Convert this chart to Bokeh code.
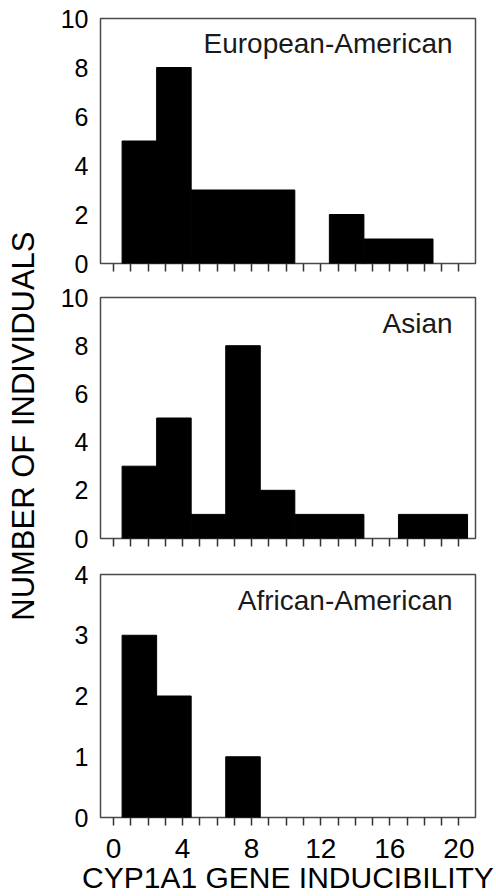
import math
from bokeh.plotting import figure
from bokeh.layouts import row, column
from bokeh.models import FixedTicker, Label, ColumnDataSource
from bokeh.embed import file_html
from bokeh.resources import INLINE

# ---- data ----
bin_left = [0.5, 2.5, 4.5, 6.5, 8.5, 10.5, 12.5, 14.5, 16.5, 18.5]
bin_right = [2.5, 4.5, 6.5, 8.5, 10.5, 12.5, 14.5, 16.5, 18.5, 20.5]
european_american = [5, 8, 3, 3, 3, 0, 2, 1, 1, 0]
asian = [3, 5, 1, 8, 2, 1, 1, 0, 1, 1]
african_american = [3, 2, 0, 1, 0, 0, 0, 0, 0, 0]
x_ticks = list(range(0, 21))
x_labeled = [0, 4, 8, 12, 16, 20]
y_ticks_10 = [0, 2, 4, 6, 8, 10]
y_ticks_4 = [0, 1, 2, 3, 4]
x_title = "CYP1A1 GENE INDUCIBILITY"
y_title = "NUMBER OF INDIVIDUALS"

FONT = "Liberation Sans"


def panel(counts, ymax, yticks, name, label_y, height, top, bottom, show_x):
    p = figure(width=456, height=height, x_range=(-0.75, 20.96), y_range=(0, ymax),
               output_backend="svg", toolbar_location=None,
               min_border_left=60, min_border_right=21,
               min_border_top=top, min_border_bottom=bottom)
    keep = [i for i, c in enumerate(counts) if c > 0]
    src = ColumnDataSource(dict(
        left=[bin_left[i] for i in keep],
        right=[bin_right[i] for i in keep],
        top=[counts[i] for i in keep]))
    p.quad(left="left", right="right", top="top", bottom=0, source=src,
           fill_color="black", line_color="black", line_width=1)
    p.xgrid.grid_line_color = None
    p.ygrid.grid_line_color = None
    p.outline_line_color = "#4a4a4a"
    p.outline_line_width = 1.5
    p.background_fill_color = "white"
    p.border_fill_color = "white"

    xa = p.xaxis[0]
    xa.ticker = FixedTicker(ticks=x_ticks, minor_ticks=[])
    xa.axis_line_color = None
    xa.major_tick_out = 8
    xa.major_tick_in = 0
    xa.major_tick_line_color = "#333333"
    xa.major_tick_line_width = 1.5
    xa.major_label_overrides = {t: (str(t) if (show_x and t in x_labeled) else "") for t in x_ticks}
    xa.major_label_text_font = FONT
    xa.major_label_text_font_size = "28px"
    xa.major_label_text_color = "black"
    xa.major_label_standoff = 13

    ya = p.yaxis[0]
    ya.ticker = FixedTicker(ticks=yticks, minor_ticks=[])
    ya.axis_line_color = None
    ya.major_tick_out = 0
    ya.major_tick_in = 0
    ya.major_label_standoff = 12
    ya.major_label_text_font = FONT
    ya.major_label_text_font_size = "25px"
    ya.major_label_text_color = "black"

    p.add_layout(Label(x=19.63, y=label_y, text=name, text_align="right",
                       text_baseline="alphabetic", text_font=FONT,
                       text_font_size="28px", text_color="#1a1a1a"))
    return p


p1 = panel(european_american, 10, y_ticks_10, "European-American", 8.97, 279, 18, 16, False)
p2 = panel(asian, 10, y_ticks_10, "Asian", 8.92, 277, 18, 18, False)
p3 = panel(african_american, 4, y_ticks_4, "African-American", 3.58, 340, 18, 77, True)
p3.xaxis[0].axis_label = x_title
p3.xaxis[0].axis_label_text_font = FONT
p3.xaxis[0].axis_label_text_font_size = "30px"
p3.xaxis[0].axis_label_text_font_style = "normal"
p3.xaxis[0].axis_label_text_color = "black"
p3.xaxis[0].axis_label_standoff = 0

t = figure(width=40, height=896, x_range=(0, 1), y_range=(0, 1),
           output_backend="svg", toolbar_location=None,
           x_axis_location=None, y_axis_location=None, min_border=0)
t.xgrid.grid_line_color = None
t.ygrid.grid_line_color = None
t.outline_line_color = None
t.add_layout(Label(x=0.575, y=0.525, text=y_title, angle=math.pi / 2,
                   text_align="center", text_baseline="middle",
                   text_font=FONT, text_font_size="31px", text_color="black"))

layout = row(t, column(p1, p2, p3))
open("out.html", "w").write(file_html(layout, INLINE))
